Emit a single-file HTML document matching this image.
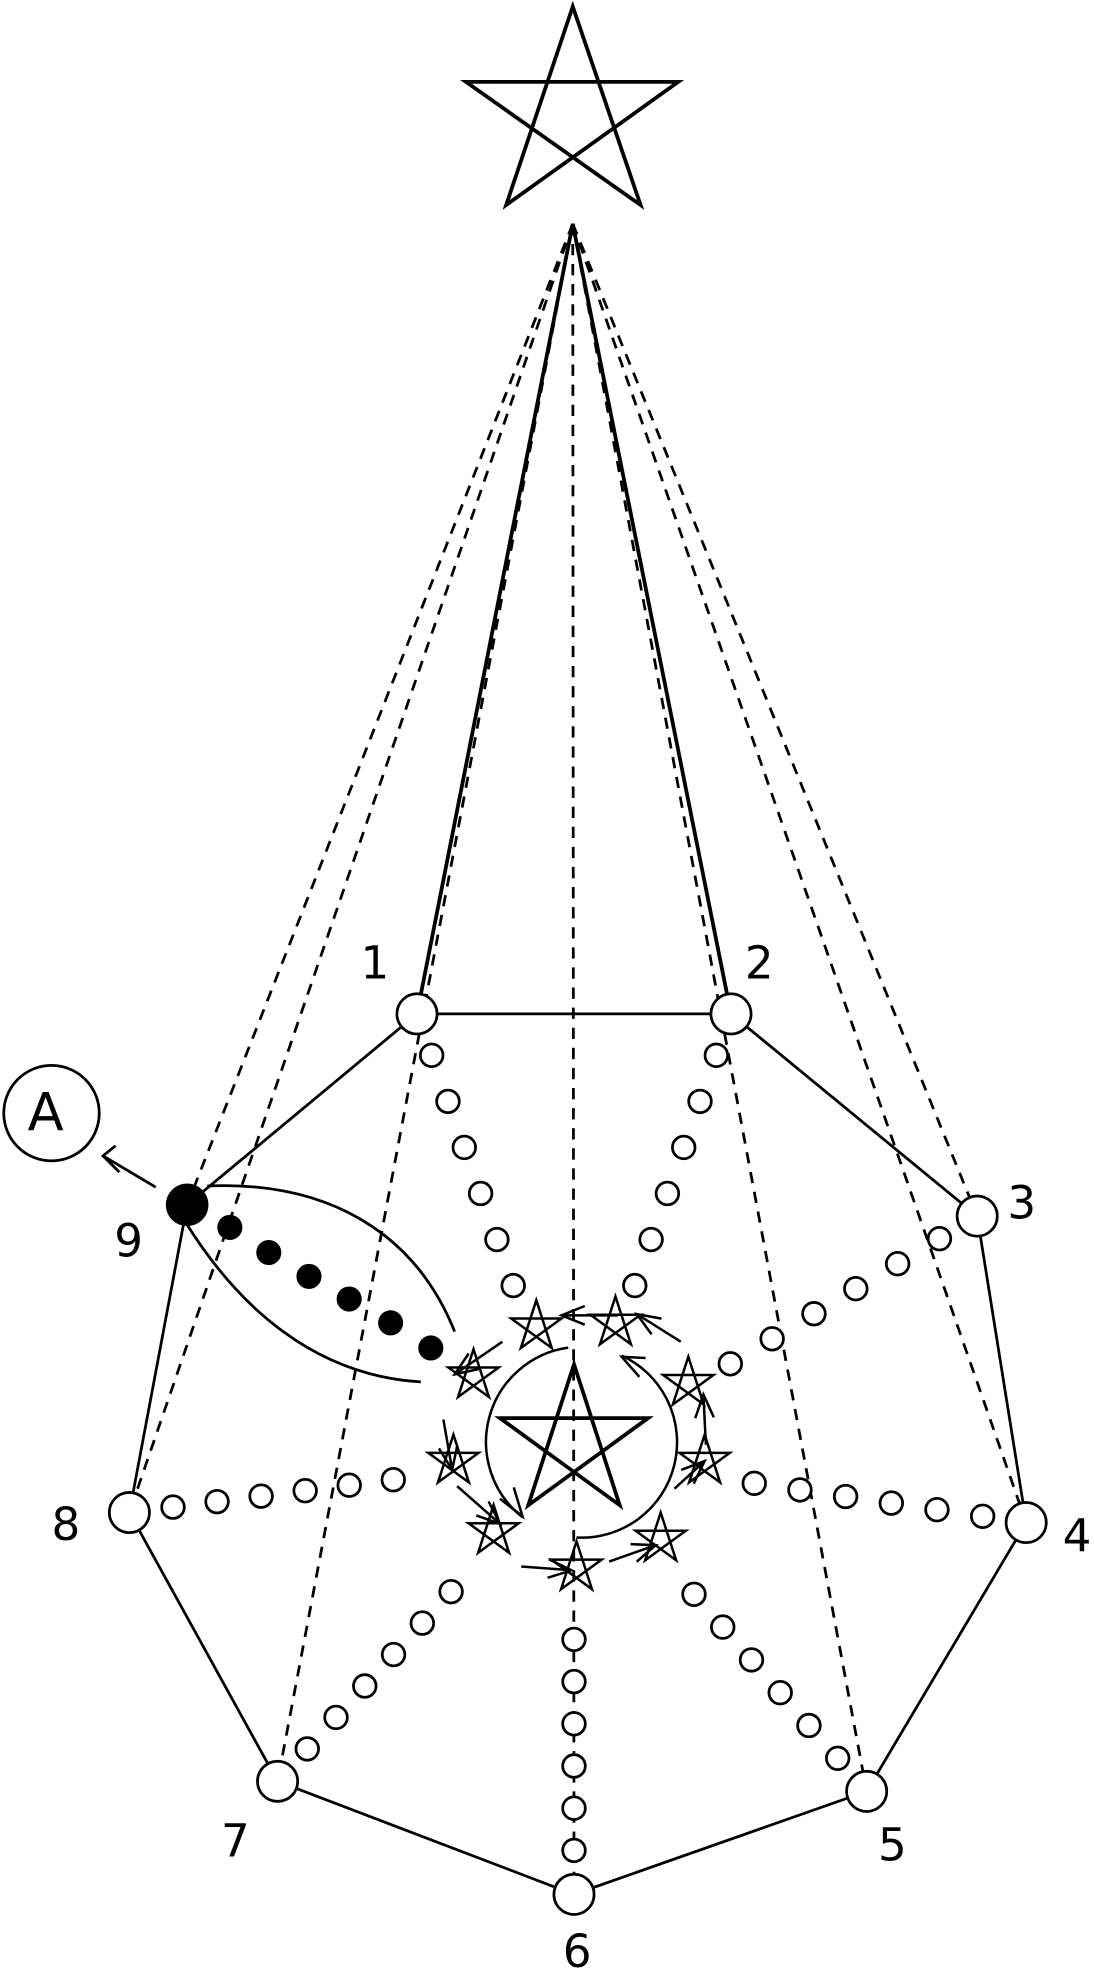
<!DOCTYPE html>
<html><head><meta charset="utf-8"><style>
html,body{margin:0;padding:0;background:#fff}
svg{display:block}
text{font-family:"DejaVu Sans","Liberation Sans",sans-serif;font-size:36px;fill:#000}
</style></head><body>
<svg id="s" width="1094" height="1970" viewBox="0 0 871 1568" xmlns="http://www.w3.org/2000/svg">
<g fill="none" stroke="#000" stroke-width="2.2">
<polygon points="456,5 403,163 540,65 371,65 510,163" stroke-width="3"/>
<g stroke-dasharray="9,7">
<line x1="456" y1="178" x2="149" y2="959"/>
<line x1="456" y1="178" x2="103" y2="1204"/>
<line x1="456" y1="178" x2="221" y2="1418"/>
<line x1="456" y1="178" x2="457" y2="1508"/>
<line x1="456" y1="178" x2="690" y2="1426"/>
<line x1="456" y1="178" x2="817" y2="1212"/>
<line x1="456" y1="178" x2="778" y2="968"/>
</g>
<line x1="456" y1="178" x2="332" y2="807" stroke-width="3"/>
<line x1="456" y1="178" x2="582" y2="807" stroke-width="3"/>
<polyline points="332,807 582,807 778,968 817,1212 690,1426 457,1508 221,1418 103,1204 149,959 332,807"/>
<path d="M165,944 C260,940 330,980 362,1060"/>
<path d="M149,975 C190,1040 250,1095 335,1100"/>
<line x1="124" y1="945" x2="82" y2="920"/>
<polyline points="92,912 82,920 95,933"/>
<circle cx="41" cy="886" r="38"/>
</g>
<text x="22" y="900" style="font-size:42px">A</text>
<g id="g" fill="#fff" stroke="#000" stroke-width="2.2"></g>
<circle cx="149" cy="959" r="17" fill="#000"/>
<g fill="#000">
<circle cx="183" cy="977" r="10"/><circle cx="214" cy="997" r="10"/><circle cx="246" cy="1016" r="10"/>
<circle cx="278" cy="1034" r="10"/><circle cx="311" cy="1053" r="10"/><circle cx="343" cy="1073" r="10"/>
</g>
<text x="287" y="779">1</text><text x="593" y="779">2</text><text x="802" y="970">3</text>
<text x="846" y="1235">4</text><text x="699" y="1481">5</text><text x="448" y="1566">6</text>
<text x="176" y="1478">7</text><text x="41" y="1226">8</text><text x="91" y="1000">9</text>
<script>
var g=document.getElementById('g'),NS='http://www.w3.org/2000/svg';
function el(t,a,p){var e=document.createElementNS(NS,t);for(var k in a)e.setAttribute(k,a[k]);(p||g).appendChild(e);return e;}
var C=[457,1160];
var nodes=[[332,807],[582,807],[778,968],[817,1212],[690,1426],[457,1508],[221,1418],[103,1204]];
nodes.forEach(function(n){var dx=C[0]-n[0],dy=C[1]-n[1],d=Math.hypot(dx,dy),ux=dx/d,uy=dy/d;
 var s0=35,s1=d-145,st=(s1-s0)/5;
 for(var i=0;i<6;i++){var s=s0+i*st;el('circle',{cx:n[0]+ux*s,cy:n[1]+uy*s,r:9});}});
function star(cx,cy,r,sw){var p=[];for(var i=0;i<5;i++){var a=-Math.PI/2+i*4*Math.PI/5;p.push((cx+r*Math.cos(a)).toFixed(1)+','+(cy+r*Math.sin(a)).toFixed(1));}
 el('polygon',{points:p.join(' '),fill:'none','stroke-width':sw});}
function circ(x,y,r){el('circle',{cx:x,cy:y,r:r});}
nodes.forEach(function(n){circ(n[0],n[1],16);});
star(457,1148,62,3);
var rs=[[427,1053],[490,1050],[548,1098],[561,1160],[526,1222],[459,1245],[393,1216],[361,1160],[377,1092]];
rs.forEach(function(p){star(p[0],p[1]+3,21,2);});
var ring=document.createElementNS(NS,'g');ring.setAttribute('fill','none');ring.setAttribute('stroke','#000');ring.setAttribute('stroke-width','2');document.getElementById('s').appendChild(ring);
function arrow(x1,y1,x2,y2){el('line',{x1:x1,y1:y1,x2:x2,y2:y2},ring);var a=Math.atan2(y2-y1,x2-x1),L=20,w=0.38;
 el('polyline',{points:(x2-L*Math.cos(a-w))+','+(y2-L*Math.sin(a-w))+' '+x2+','+y2+' '+(x2-L*Math.cos(a+w))+','+(y2-L*Math.sin(a+w))},ring);}
arrow(492,1047,447,1047);arrow(542,1068,507,1046);arrow(562,1150,560,1110);arrow(537,1185,561,1163);
arrow(485,1243,522,1230);arrow(415,1247,455,1250);arrow(364,1183,398,1213);arrow(353,1130,360,1170);arrow(400,1068,362,1094);
var cx=463,cy=1148,R=76;function P(d){var a=d*Math.PI/180;return (cx+R*Math.cos(a)).toFixed(1)+','+(cy+R*Math.sin(a)).toFixed(1);}
el('path',{d:'M'+P(-98)+' A76,76 0 0 0 '+P(128)},ring);
el('polyline',{points:'398,1193 416,1207 409,1184'},ring);
el('path',{d:'M'+P(93)+' A76,76 0 0 0 '+P(-65)},ring);
el('polyline',{points:'514,1081 495,1080 509,1096'},ring);
</script>
</svg>
</body></html>
